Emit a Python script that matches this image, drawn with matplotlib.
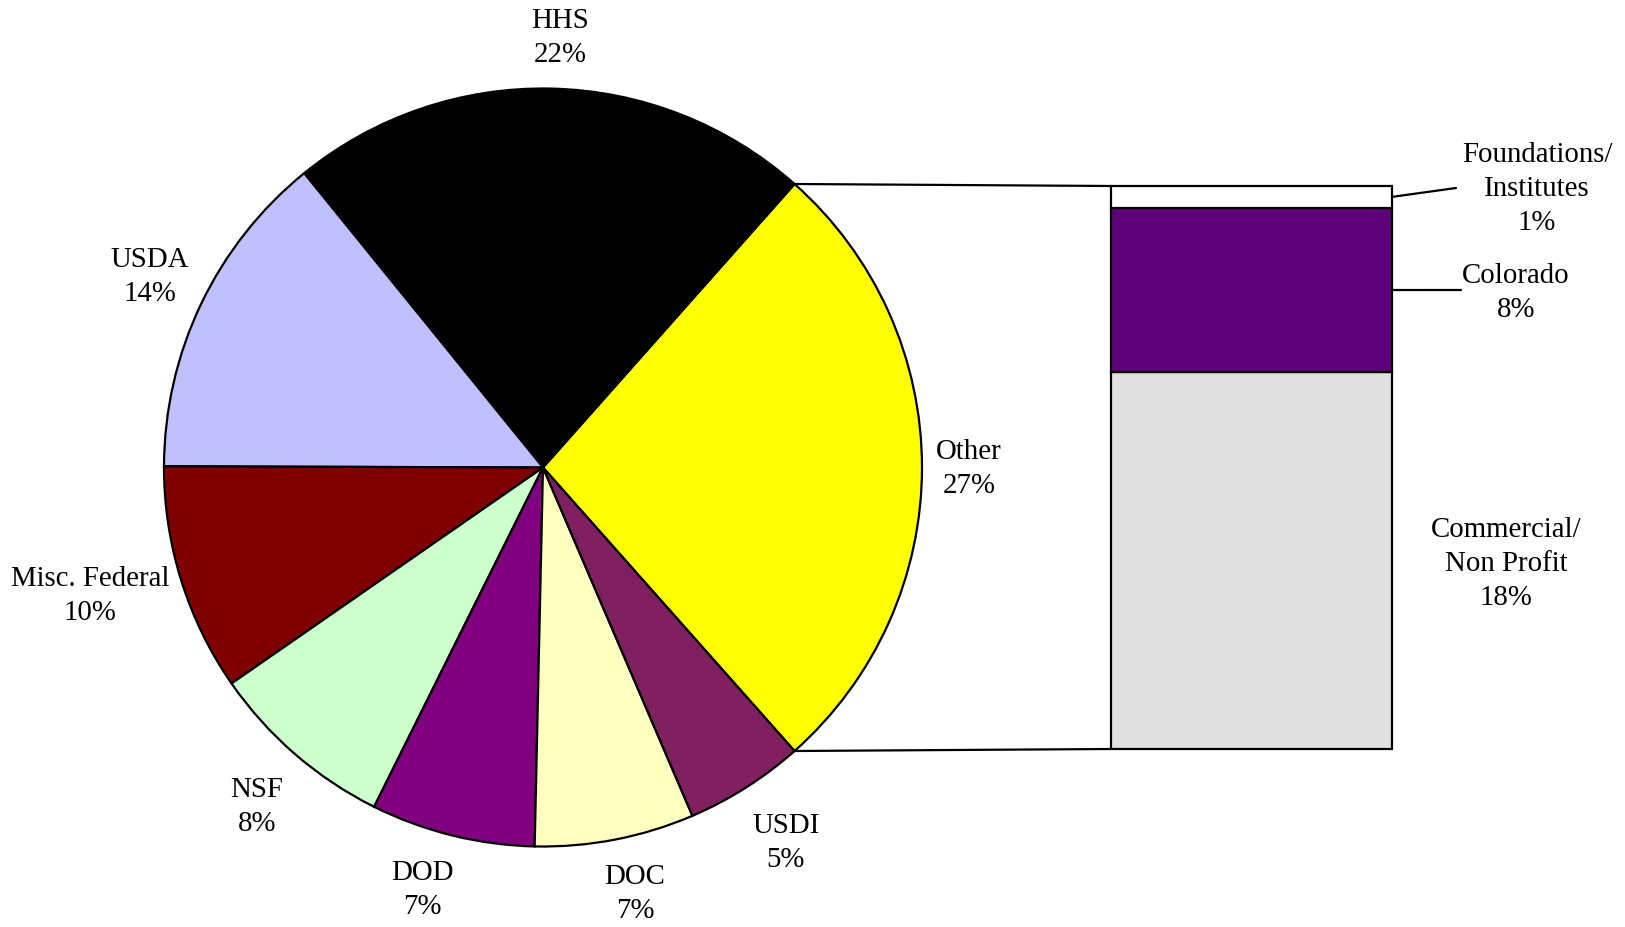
import matplotlib
matplotlib.use('Agg')
import matplotlib.pyplot as plt
from matplotlib.patches import ConnectionPatch
import numpy as np

# Funding sources, share of total (%)
PIE_LABELS = ['Other', 'HHS', 'USDA', 'Misc. Federal', 'NSF', 'DOD', 'DOC', 'USDI']
PIE_SHARES = [26.9, 22.4, 14.1, 9.7, 8.0, 7.0, 6.8, 5.1]
PIE_COLORS = ['#FFFF00', '#000000', '#C0C0FF', '#800000', '#CCFFCC', '#800080', '#FFFFC0', '#802060']

# Breakdown of "Other" (bottom to top in the bar)
BAR_LABELS = ['Commercial/\nNon Profit', 'Colorado', 'Foundations/\nInstitutes']
BAR_SHARES = [18.0, 7.86, 1.04]
BAR_COLORS = ['#E0E0E0', '#5E007A', '#FFFFFF']

W, H = 1625, 928
FONT = 'Liberation Serif'
FS = 20.8
LS = 1.42


def img(x, y):
    # image pixel coords (origin top-left) -> axes coords (origin bottom-left)
    return (x, H - y)


# label centres in image pixels
PIE_LABEL_POS = [(969, 469), (560, 38), (150, 277), (90, 596),
                 (257, 807), (422, 890), (635, 894), (786, 843)]
BAR_LABEL_POS = [(1506, 564), (1516, 293), (1537, 189)]
BAR_LEADER_END = [None, (1461, 291), (1456, 189)]

fig = plt.figure(figsize=(W / 100, H / 100), dpi=100)
ax = fig.add_axes([0, 0, 1, 1])

wedges, _ = ax.pie(PIE_SHARES, colors=PIE_COLORS, center=img(543, 468.5), radius=379,
                   startangle=-PIE_SHARES[0] * 3.6 / 2, counterclock=True,
                   wedgeprops=dict(edgecolor='black', linewidth=1.6))
ax.set_xlim(0, W)
ax.set_ylim(0, H)
ax.set_aspect('auto')
ax.axis('off')

for name, v, pos in zip(PIE_LABELS, PIE_SHARES, PIE_LABEL_POS):
    ax.text(*img(*pos), f'{name}\n{round(v)}%', ha='center', va='center',
            fontsize=FS, family=FONT, linespacing=LS)

# stacked bar for the "Other" slice
bx0, by0, bx1, by1 = 1111, 187, 1392, 750
ax2 = fig.add_axes([bx0 / W, (H - by1) / H, (bx1 - bx0) / W, (by1 - by0) / H])
total = sum(BAR_SHARES)
bottoms = np.concatenate([[0], np.cumsum(BAR_SHARES)[:-1]])
bars = ax2.bar(0, BAR_SHARES, bottom=bottoms, width=1, color=BAR_COLORS,
               edgecolor='black', linewidth=1.6, clip_on=False)
ax2.set_xlim(-0.5, 0.5)
ax2.set_ylim(0, total)
ax2.axis('off')

for name, v, b, pos, lead in zip(BAR_LABELS, BAR_SHARES, bottoms, BAR_LABEL_POS, BAR_LEADER_END):
    ax.text(*img(*pos), f'{name}\n{round(v)}%', ha='center', va='center',
            fontsize=FS, family=FONT, linespacing=LS)
    if lead is not None:
        con = ConnectionPatch(xyA=(0.5, b + v / 2), coordsA=ax2.transData,
                              xyB=img(*lead), coordsB=ax.transData,
                              color='black', linewidth=1.6)
        fig.add_artist(con)

# connector lines from the "Other" wedge to the bar
other = wedges[0]
cx, cy = other.center
r = other.r
for theta, ybar in [(other.theta2, total), (other.theta1, 0)]:
    p = (cx + r * np.cos(np.radians(theta)), cy + r * np.sin(np.radians(theta)))
    con = ConnectionPatch(xyA=p, coordsA=ax.transData, xyB=(-0.5, ybar), coordsB=ax2.transData,
                          color='black', linewidth=1.6)
    fig.add_artist(con)

fig.savefig('out.png', dpi=100, facecolor='white')
